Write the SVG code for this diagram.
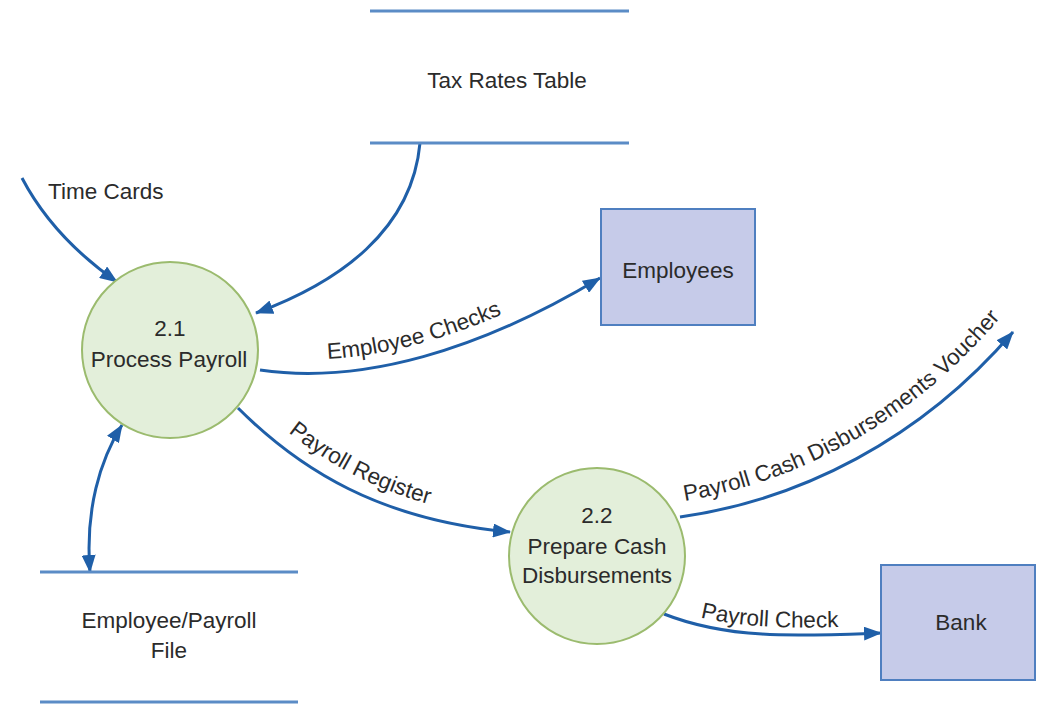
<svg xmlns="http://www.w3.org/2000/svg" width="1060" height="712" viewBox="0 0 1060 712">
<style>
  text { font-family: "Liberation Sans", Arial, sans-serif; font-size: 22.5px; fill: #2b2b2b; }
  .mid { text-anchor: middle; }
  .proc { fill: #e3efda; stroke: #9bbb6e; stroke-width: 2; }
  .ent { fill: #c6cbe9; stroke: #4f7fc0; stroke-width: 2; }
  .store { stroke: #5b8cc6; stroke-width: 3; }
  .flow { fill: none; stroke: #1f5fa8; stroke-width: 3; }
</style>
<defs>
  <marker id="arr" viewBox="0 0 18 14" refX="17" refY="7" markerWidth="18" markerHeight="14" markerUnits="userSpaceOnUse" orient="auto-start-reverse">
    <path d="M0,0 L18,7 L0,14 z" fill="#1f5fa8"/>
  </marker>
  <path id="lp-checks" d="M262,356 C 362,371 480,336 598,264"/>
  <path id="lp-register" d="M248,396 C 310,458 388,508 518,520"/>
  <path id="lp-voucher" d="M678,502 C 795,484 910,424 1000,318"/>
  <path id="lp-check" d="M664,606 C 730,632 800,628 881,626"/>
</defs>

<g id="connectors">
  <path class="flow" d="M22,178 C 45,222 80,256 117,282" marker-end="url(#arr)"/>
  <path class="flow" d="M420,143 C 412,230 340,282 256,313" marker-end="url(#arr)"/>
  <path class="flow" d="M260,370 C 362,385 480,350 600,278" marker-end="url(#arr)"/>
  <path class="flow" d="M238,408 C 300,470 380,520 510,532" marker-end="url(#arr)"/>
  <path class="flow" d="M680,517 C 800,500 920,440 1013,332" marker-end="url(#arr)"/>
  <path class="flow" d="M664,614 C 730,640 800,636 881,633" marker-end="url(#arr)"/>
  <path class="flow" d="M90,572 C 85,510 100,460 122,425" marker-start="url(#arr)" marker-end="url(#arr)"/>
  <text id="lbl-timecards" x="48" y="199">Time Cards</text>
  <text><textPath href="#lp-checks" startOffset="44%" text-anchor="middle">Employee Checks</textPath></text>
  <text><textPath href="#lp-register" startOffset="44%" text-anchor="middle">Payroll Register</textPath></text>
  <text><textPath href="#lp-voucher" startOffset="51%" text-anchor="middle">Payroll Cash Disbursements Voucher</textPath></text>
  <text><textPath href="#lp-check" startOffset="49%" text-anchor="middle">Payroll Check</textPath></text>
</g>

<g id="tax-rates-table">
  <line class="store" x1="370" y1="11" x2="629" y2="11"/>
  <line class="store" x1="370" y1="143" x2="629" y2="143"/>
  <text class="mid" x="507" y="88">Tax Rates Table</text>
</g>

<g id="employee-payroll-file">
  <line class="store" x1="40" y1="572" x2="298" y2="572"/>
  <line class="store" x1="40" y1="702" x2="298" y2="702"/>
  <text class="mid" x="169" y="628">Employee/Payroll</text>
  <text class="mid" x="169" y="658">File</text>
</g>

<g id="process-2-1">
  <circle class="proc" cx="170" cy="350" r="88"/>
  <text class="mid" x="170" y="336">2.1</text>
  <text class="mid" x="169" y="367">Process Payroll</text>
</g>

<g id="process-2-2">
  <circle class="proc" cx="597" cy="556" r="88"/>
  <text class="mid" x="597" y="523">2.2</text>
  <text class="mid" x="597" y="554">Prepare Cash</text>
  <text class="mid" x="597" y="583">Disbursements</text>
</g>

<g id="employees">
  <rect class="ent" x="601" y="209" width="154" height="116"/>
  <text class="mid" x="678" y="278">Employees</text>
</g>

<g id="bank">
  <rect class="ent" x="881" y="565" width="154" height="115"/>
  <text class="mid" x="961" y="630">Bank</text>
</g>
</svg>
